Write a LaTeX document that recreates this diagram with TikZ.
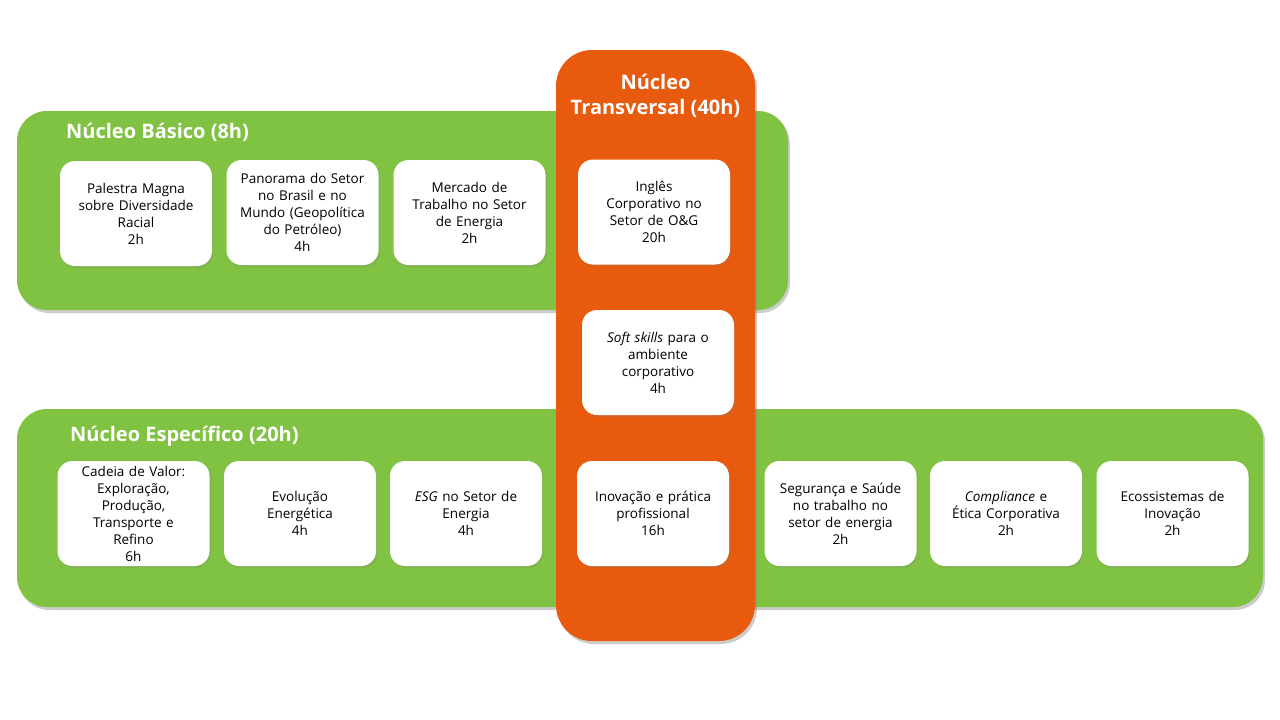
\documentclass[tikz,border=0pt]{standalone}
\usepackage{fontspec}
\setmainfont{Open Sans}
\usetikzlibrary{shadows}
\definecolor{grn}{HTML}{80C242}
\definecolor{org}{HTML}{E85A0D}
\tikzset{
  band/.style={fill=grn, draw=none, rounded corners=30pt, inner sep=0pt,
    drop shadow={opacity=0.4, shadow xshift=2pt, shadow yshift=-3pt}},
  column/.style={fill=org, draw=none, rounded corners=36pt, inner sep=0pt,
    drop shadow={opacity=0.4, shadow xshift=2pt, shadow yshift=-3pt}},
  card/.style={fill=white, draw=none, rounded corners=15pt, align=center,
    font=\fontsize{13.5}{17}\selectfont, inner sep=0pt,
    minimum width=152pt, minimum height=105pt, text width=150pt,
    drop shadow={opacity=0.22, shadow xshift=1.5pt, shadow yshift=-2pt}},
  bandtitle/.style={text=white, font=\bfseries\fontsize{20}{25}\selectfont, inner sep=0pt},
}
\begin{document}
\begin{tikzpicture}[x=1pt,y=-1pt]
\useasboundingbox[fill=white] (0,0) rectangle (1280,720);
% bands
\node[band, minimum width=771pt, minimum height=199pt] (basic) at (402.5,210.5) {};
\node[band, minimum width=1246pt, minimum height=198pt] (spec) at (640,508) {};
\node[column, minimum width=199pt, minimum height=591pt] (trans) at (655.5,345.5) {};
% titles
\node[bandtitle, anchor=west] (tbasic) at (66,132) {Núcleo Básico (8h)};
\node[bandtitle, anchor=west] (tspec) at (70,436) {Núcleo Específico (20h)};
\node[bandtitle, align=center, font=\bfseries\fontsize{20}{25}\selectfont] (ttrans) at (655.5,96) {Núcleo\\Transversal (40h)};
% basic cards
\node[card] (b1) at (136,213.5) {Palestra Magna\\sobre Diversidade\\Racial\\2h};
\node[card] (b2) at (302.5,212.5) {Panorama do Setor\\no Brasil e no\\Mundo (Geopolítica\\do Petróleo)\\4h};
\node[card] (b3) at (469.5,212.5) {Mercado de\\Trabalho no Setor\\de Energia\\2h};
% transversal cards
\node[card] (t1) at (654,212) {Inglês\\Corporativo no\\Setor de O\&G\\20h};
\node[card] (t2) at (658,362.5) {\textit{Soft skills} para o\\ambiente\\corporativo\\4h};
\node[card] (t3) at (653,513.5) {Inovação e prática\\profissional\\16h};
% specific cards
\node[card] (s1) at (133.5,513.5) {Cadeia de Valor:\\Exploração,\\Produção,\\Transporte e\\Refino\\6h};
\node[card] (s2) at (300,513.5) {Evolução\\Energética\\4h};
\node[card] (s3) at (466,513.5) {\textit{ESG} no Setor de\\Energia\\4h};
\node[card] (s4) at (840.5,513.5) {Segurança e Saúde\\no trabalho no\\setor de energia\\2h};
\node[card] (s5) at (1006,513.5) {\textit{Compliance} e\\Ética Corporativa\\2h};
\node[card] (s6) at (1172.5,513.5) {Ecossistemas de\\Inovação\\2h};
\end{tikzpicture}
\end{document}
